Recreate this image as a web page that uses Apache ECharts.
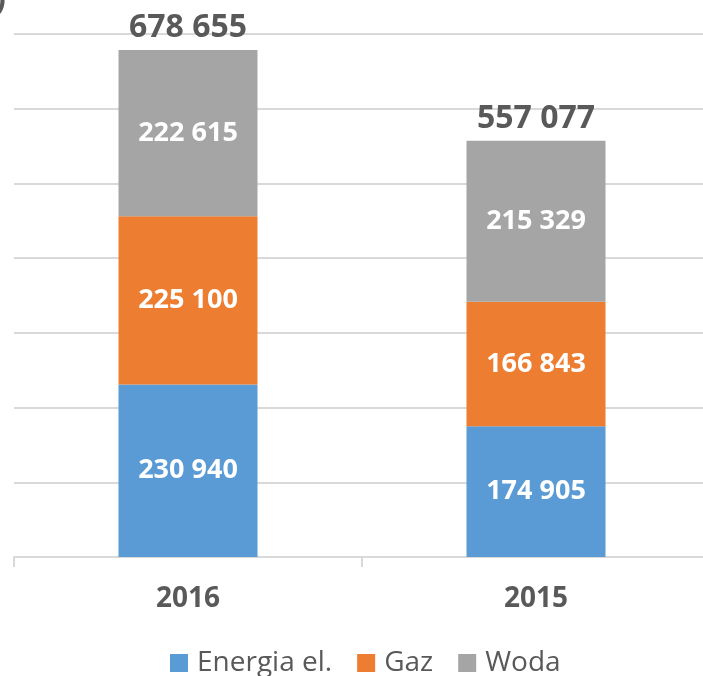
<!DOCTYPE html>
<html>
<head>
<meta charset="utf-8">
<script src="https://cdn.jsdelivr.net/npm/echarts@6/dist/echarts.min.js"></script>
<style>
  html, body { margin: 0; padding: 0; background: #fff; }
  #chart { width: 703px; height: 676px; }
</style>
</head>
<body>
<div id="chart"></div>
<script>
var years = ['2016', '2015'];
var energia = [230940, 174905];
var gaz = [225100, 166843];
var woda = [222615, 215329];
var totals = [678655, 557077];

// liczby z odstępem tysięcy
function fmt(v) {
  return String(v).replace(/\B(?=(\d{3})+(?!\d))/g, ' ');
}

var font = '"Open Sans", "Noto Sans", sans-serif';
var inLabel = {
  show: true,
  position: 'inside',
  color: '#fff',
  fontFamily: font,
  fontWeight: 'bold',
  fontSize: 27,
  formatter: function (p) { return fmt(p.value); }
};

var myChart = echarts.init(document.getElementById('chart'));
var option = {
  animation: false,
  graphic: [{
    type: 'text', x: -5, y: -16, z: 100,
    style: { text: ')', fontSize: 32, fontWeight: 'bold', fill: '#595959', fontFamily: font }
  }],
  legend: {
    data: ['Energia el.', 'Gaz', 'Woda'],
    bottom: -6,
    left: 165,
    icon: 'rect',
    itemWidth: 18,
    itemHeight: 18,
    itemGap: 25,
    textStyle: { fontSize: 28, color: '#595959', fontFamily: font, padding: [0, 0, 0, 4] }
  },
  grid: { left: 14, right: -7, top: 34, bottom: 119, outerBoundsMode: 'none' },
  xAxis: {
    type: 'category',
    data: years,
    axisLine: { lineStyle: { color: '#d9d9d9', width: 2 } },
    axisTick: { show: true, length: 10, lineStyle: { color: '#d9d9d9', width: 2 } },
    axisLabel: { margin: 28, color: '#595959', fontSize: 28, fontWeight: 'bold', fontFamily: font }
  },
  yAxis: {
    type: 'value',
    min: 0,
    max: 700000,
    interval: 100000,
    axisLabel: { show: false },
    axisLine: { show: false },
    axisTick: { show: false },
    splitLine: { lineStyle: { color: '#d9d9d9', width: 2 } }
  },
  series: [
    { name: 'Energia el.', type: 'bar', stack: 'a', barWidth: 139, data: energia,
      itemStyle: { color: '#5B9BD5' }, label: inLabel },
    { name: 'Gaz', type: 'bar', stack: 'a', data: gaz,
      itemStyle: { color: '#ED7D31' }, label: inLabel },
    { name: 'Woda', type: 'bar', stack: 'a', data: woda,
      itemStyle: { color: '#A5A5A5' }, label: inLabel },
    { name: 'Suma', type: 'bar', barGap: '-100%', barWidth: 139, data: totals, z: 1,
      itemStyle: { color: 'rgba(0,0,0,0)' },
      label: { show: true, position: 'top', distance: 6, color: '#595959', fontFamily: font,
        fontWeight: 'bold', fontSize: 32, formatter: function (p) { return fmt(p.value); } } }
  ]
};
myChart.setOption(option);
</script>
</body>
</html>
